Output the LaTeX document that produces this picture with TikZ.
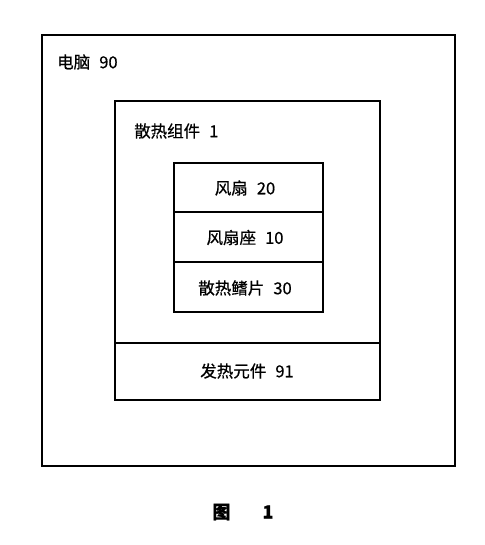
\documentclass[tikz,border=0pt]{standalone}
\usepackage{fontspec}
\setmainfont{Noto Sans CJK SC}[FakeBold=0.6]
\newcommand{\gap}{\hspace{0.55em}}
\begin{document}
\begin{tikzpicture}[x=1pt,y=-1pt,
  box/.style={draw,line width=1.6pt},
  lbl/.style={inner sep=0pt,font=\fontsize{16.5}{19}\selectfont}]
\useasboundingbox (0,0) rectangle (484,545);
\draw[box] (42,35) rectangle (455,466);
\node[lbl,anchor=west] (pc) at (57,62) {电脑\gap 90};
\draw[box] (115,101) rectangle (380,343);
\node[lbl,anchor=west] (hs) at (134,131) {散热组件\gap 1};
\draw[box] (174,163) rectangle (323,212);
\draw[box] (174,212) rectangle (323,262);
\draw[box] (174,262) rectangle (323,312);
\node[lbl] (fan) at (245,188) {风扇\gap 20};
\node[lbl] (seat) at (245,237.5) {风扇座\gap 10};
\node[lbl] (fin) at (245,288) {散热鳍片\gap 30};
\draw[box] (115,343) rectangle (380,400);
\node[lbl] (heat) at (247,371) {发热元件\gap 91};
\node[lbl,font=\fontsize{18}{20}\selectfont\bfseries] (cap) at (243,512) {图\hspace{32pt}1};
\end{tikzpicture}
\end{document}
